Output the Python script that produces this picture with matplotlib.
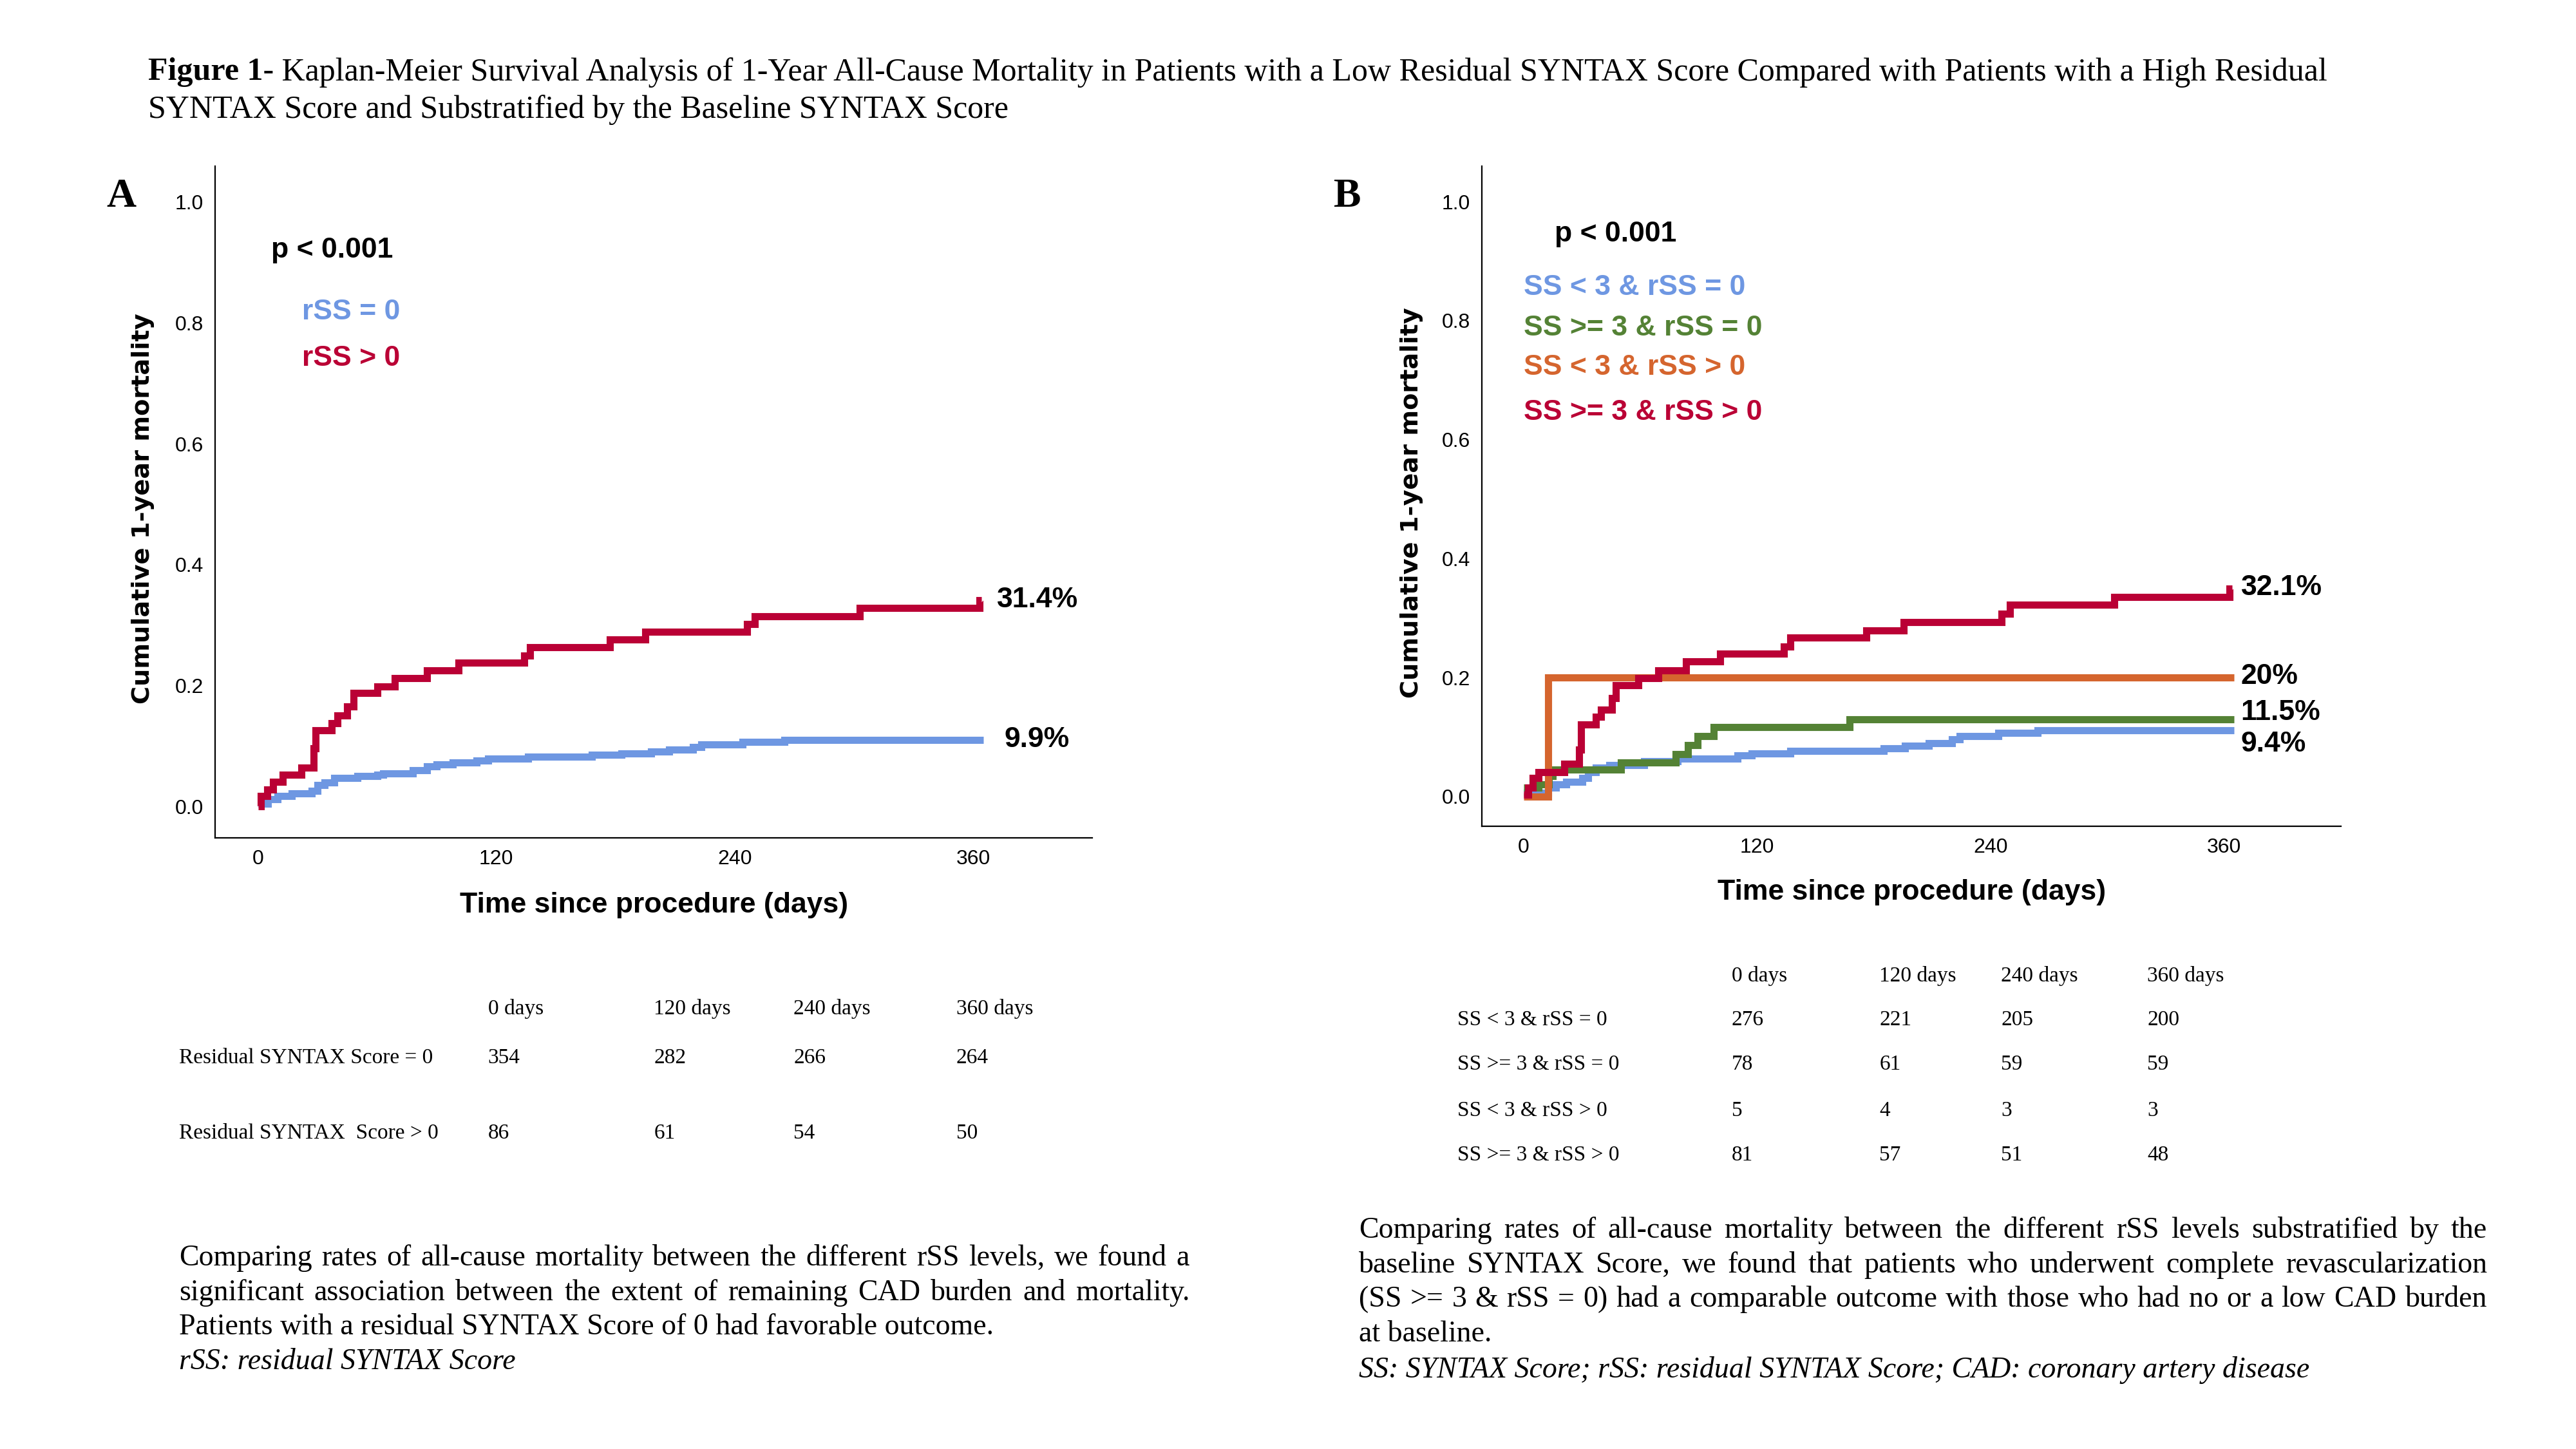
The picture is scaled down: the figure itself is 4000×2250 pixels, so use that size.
import matplotlib
matplotlib.use("Agg")
import matplotlib.pyplot as plt

# ---- data ----
a_days_lo = [0, 5, 10, 17, 27, 30, 33.5, 38.5, 50, 60, 63, 78, 85, 90, 98, 110, 116, 136, 168, 183, 198, 207, 219, 223, 244, 265, 365]
a_mort_lo = [0.005, 0.012, 0.017, 0.022, 0.026, 0.035, 0.040, 0.047, 0.050, 0.052, 0.055, 0.060, 0.066, 0.070, 0.073,
             0.076, 0.079, 0.082, 0.085, 0.088, 0.091, 0.094, 0.098, 0.103, 0.107, 0.110, 0.110]
a_days_hi = [0, 1.3, 4.6, 7.6, 12.6, 22, 28, 29, 37, 40, 45, 48, 60, 69, 85, 101, 134, 137, 177, 195, 246, 250, 303, 363, 364]
a_mort_hi = [0.0, 0.017, 0.028, 0.041, 0.053, 0.064, 0.096, 0.126, 0.138, 0.151, 0.165, 0.188, 0.199, 0.212, 0.225,
             0.238, 0.250, 0.263, 0.276, 0.289, 0.302, 0.315, 0.328, 0.341, 0.341]

b_days_1 = [0, 12.6, 16.6, 21.7, 30, 33, 37, 44, 62, 79, 110, 117, 137, 185, 196, 208, 220, 224, 244, 264, 365]
b_mort_1 = [0.007, 0.015, 0.021, 0.025, 0.031, 0.041, 0.049, 0.053, 0.059, 0.064, 0.069, 0.073, 0.077, 0.081, 0.086,
            0.090, 0.096, 0.102, 0.107, 0.111, 0.111]
b_days_2 = [0, 7.5, 13, 15, 50, 78, 84.5, 89.5, 97.5, 167.5, 365]
b_mort_2 = [0.015, 0.021, 0.035, 0.045, 0.057, 0.071, 0.087, 0.102, 0.117, 0.130, 0.130]
b_days_3 = [0, 12.6, 365]
b_mort_3 = [0.0, 0.2, 0.2]
b_days_4 = [0, 2.4, 4.8, 7.5, 21, 28.5, 29.5, 37, 39.7, 45.5, 47.2, 59, 69.3, 83.5, 100.8, 133.7, 137, 176, 195.4,
            245.6, 249.7, 303.3, 362.7, 364]
b_mort_4 = [0.003, 0.015, 0.031, 0.041, 0.055, 0.079, 0.121, 0.134, 0.146, 0.166, 0.187, 0.199, 0.212, 0.227, 0.240,
            0.252, 0.267, 0.279, 0.293, 0.307, 0.322, 0.336, 0.350, 0.350]

a_labels = ["rSS = 0", "rSS > 0"]
a_end = ["9.9%", "31.4%"]
b_labels = ["SS < 3 & rSS = 0", "SS >= 3 & rSS = 0", "SS < 3 & rSS > 0", "SS >= 3 & rSS > 0"]
b_end = ["9.4%", "11.5%", "20%", "32.1%"]

x_ticks = [0, 120, 240, 360]
y_ticks = [0.0, 0.2, 0.4, 0.6, 0.8, 1.0]

table_days = ["0 days", "120 days", "240 days", "360 days"]
a_rows = ["Residual SYNTAX Score = 0", "Residual SYNTAX  Score > 0"]
a_risk = [[354, 282, 266, 264], [86, 61, 54, 50]]
b_rows = ["SS < 3 & rSS = 0", "SS >= 3 & rSS = 0", "SS < 3 & rSS > 0", "SS >= 3 & rSS > 0"]
b_risk = [[276, 221, 205, 200], [78, 61, 59, 59], [5, 4, 3, 3], [81, 57, 51, 48]]

title_bold = "Figure 1-"
title_1 = " Kaplan-Meier Survival Analysis of 1-Year All-Cause Mortality in Patients with a Low Residual SYNTAX Score Compared with Patients with a High Residual"
title_2 = "SYNTAX Score and Substratified by the Baseline SYNTAX Score"

a_par = ["Comparing rates of all-cause mortality between the different rSS levels, we found a",
         "significant association between the extent of remaining CAD burden and mortality.",
         "Patients with a residual SYNTAX Score of 0 had favorable outcome."]
a_note = "rSS: residual SYNTAX Score"
b_par = ["Comparing rates of all-cause mortality between the different rSS levels substratified by the",
         "baseline SYNTAX Score, we found that patients who underwent complete revascularization",
         "(SS >= 3 & rSS = 0) had a comparable outcome with those who had no or a low CAD burden",
         "at baseline."]
b_note = "SS: SYNTAX Score; rSS: residual SYNTAX Score; CAD: coronary artery disease"

BLUE = "#6E97E2"
RED = "#BA0035"
GREEN = "#548235"
ORANGE = "#D5652E"

SERIF = "Liberation Serif"
SANS = "Liberation Sans"

W, H = 1568.0, 882.0  # layout measured on a 1568 px wide copy


def fx(x):
    return x / W


def fy(y):
    return 1 - y / H


fig = plt.figure(figsize=(40, 22.5), dpi=100)
renderer = fig.canvas.get_renderer()


def text_width(t):
    return t.get_window_extent(renderer).width / fig.bbox.width


def justify(words_line, x0, x1, y, **kw):
    words = words_line.split(" ")
    objs = [fig.text(0, y, w, **kw) for w in words]
    widths = [text_width(o) for o in objs]
    gap = (x1 - x0 - sum(widths)) / (len(words) - 1)
    x = x0
    for o, w in zip(objs, widths):
        o.set_x(x)
        x += w + gap


def setup_axes(rect):
    ax = fig.add_axes(rect)
    ax.set_xlim(-21.5, 420)
    ax.set_ylim(-0.052, 1.06)
    ax.spines["top"].set_visible(False)
    ax.spines["right"].set_visible(False)
    for s in ["left", "bottom"]:
        ax.spines[s].set_linewidth(1.6)
    ax.set_xticks(x_ticks)
    ax.set_yticks(y_ticks)
    ax.set_yticklabels([f"{v:.1f}" for v in y_ticks])
    ax.tick_params(length=0, labelsize=23, pad=13)
    for lab in ax.get_xticklabels() + ax.get_yticklabels():
        lab.set_fontfamily(SANS)
    ax.text(0.5, -0.1, "Time since procedure (days)", transform=ax.transAxes, ha="center", va="center",
            fontsize=32, fontweight="bold", fontfamily=SANS)
    ax.text(-0.082, 0.49, "Cumulative 1-year mortality", transform=ax.transAxes, ha="center", va="center",
            rotation=90, fontsize=27.5, fontweight="bold", fontfamily="DejaVu Sans")
    return ax


step_kw = dict(where="post", linewidth=8, solid_joinstyle="miter", solid_capstyle="butt")

# ---- panel A ----
axA = setup_axes([fx(131), fy(510), fx(665) - fx(131), fy(101) - fy(510)])
axA.step(a_days_lo, a_mort_lo, color=BLUE, **step_kw)
axA.step(a_days_hi, a_mort_hi, color=RED, **step_kw)
lab_kw = dict(fontsize=32, fontweight="bold", fontfamily=SANS, va="center", ha="left")
axA.text(6.6, 0.921, "p < 0.001", color="black", **lab_kw)
axA.text(22.3, 0.818, a_labels[0], color=BLUE, **lab_kw)
axA.text(22.3, 0.742, a_labels[1], color=RED, **lab_kw)
axA.text(375.5, 0.111, a_end[0], color="black", **lab_kw)
axA.text(372, 0.342, a_end[1], color="black", **lab_kw)

# ---- panel B ----
axB = setup_axes([fx(902), fy(503), fx(1425) - fx(902), fy(101) - fy(503)])
axB.set_ylim(-0.05, 1.06)
for d, m, c in [(b_days_1, b_mort_1, BLUE), (b_days_2, b_mort_2, GREEN),
                (b_days_3, b_mort_3, ORANGE), (b_days_4, b_mort_4, RED)]:
    axB.step(d, m, color=c, **step_kw)
axB.text(16, 0.945, "p < 0.001", color="black", **lab_kw)
for lab, yy, c in zip(b_labels, [0.856, 0.787, 0.721, 0.646], [BLUE, GREEN, ORANGE, RED]):
    axB.text(0, yy, lab, color=c, **lab_kw)
for lab, yy in zip(b_end, [0.088, 0.141, 0.2017, 0.351]):
    axB.text(368.5, yy, lab, color="black", **lab_kw)

# panel letters
fig.text(fx(65), fy(120), "A", fontsize=46, fontweight="bold", fontfamily=SERIF, va="center", ha="left")
fig.text(fx(812), fy(120), "B", fontsize=46, fontweight="bold", fontfamily=SERIF, va="center", ha="left")

# ---- title ----
tb = fig.text(fx(90), fy(44), title_bold, fontsize=36, fontweight="bold", fontfamily=SERIF, va="center")
fig.text(fx(90) + text_width(tb), fy(44), title_1, fontsize=36, fontfamily=SERIF, va="center")
fig.text(fx(90), fy(67), title_2, fontsize=36, fontfamily=SERIF, va="center")

# ---- risk tables ----
tab_kw = dict(fontsize=24, fontfamily=SERIF, va="center", ha="left")
a_cols = [297, 398, 483, 582]
for c, lab in zip(a_cols, table_days):
    fig.text(fx(c), fy(614), lab, **tab_kw)
for r, (name, vals) in enumerate(zip(a_rows, a_risk)):
    yy = [644, 690][r]
    fig.text(fx(109), fy(yy), name, **tab_kw)
    for c, v in zip(a_cols, vals):
        fig.text(fx(c), fy(yy), str(v), **tab_kw)

b_cols = [1054, 1144, 1218, 1307]
for c, lab in zip(b_cols, table_days):
    fig.text(fx(c), fy(594), lab, **tab_kw)
for r, (name, vals) in enumerate(zip(b_rows, b_risk)):
    yy = [621, 648, 676, 703][r]
    fig.text(fx(887), fy(yy), name, **tab_kw)
    for c, v in zip(b_cols, vals):
        fig.text(fx(c), fy(yy), str(v), **tab_kw)

# ---- captions ----
par_kw = dict(fontsize=33, fontfamily=SERIF, va="center", ha="left")
for i, line in enumerate(a_par):
    yy = fy(766 + 21 * i)
    if i < 2:
        justify(line, fx(109), fx(724), yy, **par_kw)
    else:
        fig.text(fx(109), yy, line, **par_kw)
fig.text(fx(109), fy(829), a_note, style="italic", **par_kw)

for i, line in enumerate(b_par):
    yy = fy(749 + 21 * i)
    if i < 3:
        justify(line, fx(827), fx(1514), yy, **par_kw)
    else:
        fig.text(fx(827), yy, line, **par_kw)
fig.text(fx(827), fy(834), b_note, style="italic", **par_kw)

fig.savefig("out.png", dpi=100, facecolor="white")
